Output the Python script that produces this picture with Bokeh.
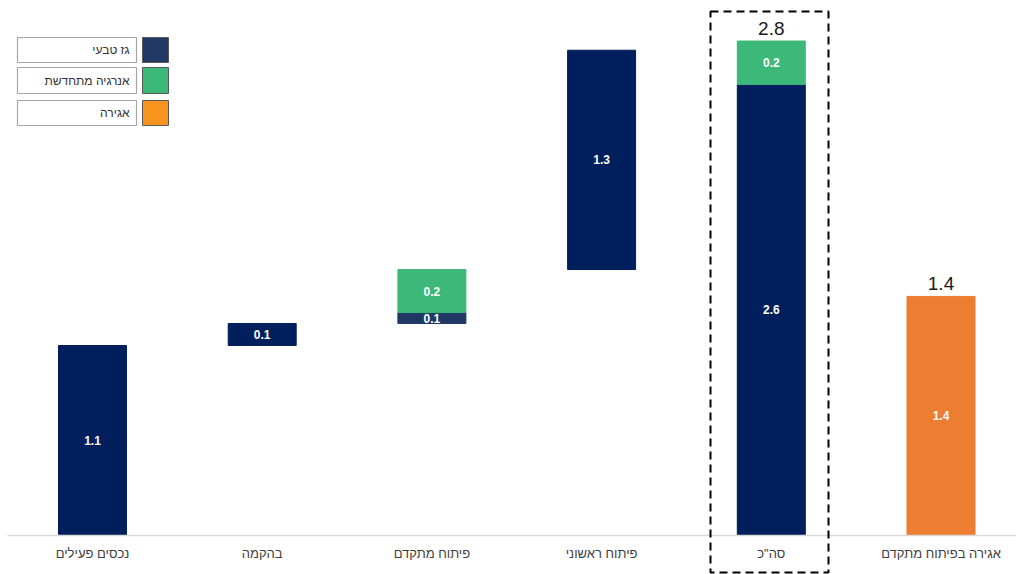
from bokeh.plotting import figure
from bokeh.models import ColumnDataSource, Range1d
from bokeh.core.properties import value
from bokeh.embed import file_html
from bokeh.resources import INLINE

# ---------------- data ----------------
categories = ["נכסים פעילים", "בהקמה", "פיתוח מתקדם", "פיתוח ראשוני", "סה\"כ", "אגירה בפיתוח מתקדם"]
gas = [1.095, 0.127, 0.063, 1.264, 2.6, 0.0]
renewable = [0.0, 0.0, 0.248, 0.0, 0.25, 0.0]
storage = [0.0, 0.0, 0.0, 0.0, 0.0, 1.378]
gas_labels = ["1.1", "0.1", "0.1", "1.3", "2.6", ""]
renew_labels = ["", "", "0.2", "", "0.2", ""]
storage_labels = ["", "", "", "", "", "1.4"]
total_labels = ["", "", "", "", "2.8", "1.4"]
legend_names = ["גז טבעי", "אנרגיה מתחדשת", "אגירה"]

NAVY = "#001f5c"
NAVY2 = "#1f3864"
GREEN = "#3cb878"
ORANGE = "#ed7d31"
FONT = "Liberation Sans"

# ---------------- geometry helpers (pixel -> data) ----------------
W, H = 1016, 574
PX_PER_CAT = 169.7
PX_PER_UNIT = 173.5
X0_PX = 92.0
BASE_PX = 535.0


def sx(px):
    return (px - X0_PX) / PX_PER_CAT


def sy(py):
    return (BASE_PX - py) / PX_PER_UNIT


# ---------------- waterfall bottoms ----------------
n = len(categories)
xs = list(range(n))
gas_bottom, renew_bottom = [], []
run = 0.0
for i in range(n):
    if i < 4:
        b = run
        run += gas[i] + renewable[i]
    else:
        b = 0.0
    gas_bottom.append(b)
    renew_bottom.append(b + gas[i])
gas_top = [b + g for b, g in zip(gas_bottom, gas)]
renew_top = [b + r for b, r in zip(renew_bottom, renewable)]
stor_top = storage[:]

gas_colors = [NAVY, NAVY, NAVY2, NAVY, NAVY, NAVY]

p = figure(width=W, height=H, output_backend="svg", toolbar_location=None,
           x_range=Range1d(sx(0), sx(W)), y_range=Range1d(sy(H), sy(0)),
           x_axis_type=None, y_axis_type=None, min_border=0)
p.outline_line_color = None
p.grid.visible = False
p.background_fill_color = "white"
p.border_fill_color = "white"

BW = 68 / PX_PER_CAT

src_gas = ColumnDataSource(dict(x=[x for x, g in zip(xs, gas) if g > 0],
                                top=[t for t, g in zip(gas_top, gas) if g > 0],
                                bottom=[b for b, g in zip(gas_bottom, gas) if g > 0],
                                color=[c for c, g in zip(gas_colors, gas) if g > 0],
                                lab=[l for l, g in zip(gas_labels, gas) if g > 0]))
p.vbar(x="x", top="top", bottom="bottom", width=BW, fill_color="color", line_color="color", source=src_gas)

src_ren = ColumnDataSource(dict(x=[x for x, r in zip(xs, renewable) if r > 0],
                                top=[t for t, r in zip(renew_top, renewable) if r > 0],
                                bottom=[b for b, r in zip(renew_bottom, renewable) if r > 0],
                                lab=[l for l, r in zip(renew_labels, renewable) if r > 0]))
p.vbar(x="x", top="top", bottom="bottom", width=BW, fill_color=GREEN, line_color=GREEN, source=src_ren)

src_st = ColumnDataSource(dict(x=[x for x, s in zip(xs, storage) if s > 0],
                               top=[s for s in storage if s > 0],
                               bottom=[0.0 for s in storage if s > 0],
                               lab=[l for l, s in zip(storage_labels, storage) if s > 0]))
p.vbar(x="x", top="top", bottom="bottom", width=BW, fill_color=ORANGE, line_color=ORANGE, source=src_st)

# in-bar labels
for s in (src_gas, src_ren, src_st):
    d = s.data
    s.data["ym"] = [(a + b) / 2 for a, b in zip(d["top"], d["bottom"])]
    p.text(x="x", y="ym", text="lab", source=s, text_color="white", text_font=value(FONT),
           text_font_style="bold", text_font_size="12px", text_align="center", text_baseline="middle")

# total labels above bars
tops = [max(a, b, c) for a, b, c in zip(gas_top, renew_top, stor_top)]
tl_src = ColumnDataSource(dict(x=[x for x, l in zip(xs, total_labels) if l],
                               y=[t + 6 / PX_PER_UNIT for t, l in zip(tops, total_labels) if l],
                               t=[l for l in total_labels if l]))
p.text(x="x", y="y", text="t", source=tl_src, text_color="#1a1a1a", text_font=value(FONT),
       text_font_size="19px", text_align="center", text_baseline="bottom")

# baseline
p.segment(x0=[sx(7)], y0=[0], x1=[sx(W)], y1=[0], line_color="#d9d9d9", line_width=1.5)

# category labels
p.text(x=xs, y=[sy(553)] * n, text=categories, text_color="#404040", text_font=value(FONT),
       text_font_size="13px", text_align="center", text_baseline="middle")

# dashed box around total
p.quad(left=[sx(710)], right=[sx(828)], top=[sy(11)], bottom=[sy(572)], fill_color=None,
       line_color="black", line_width=2, line_dash="8 5")

# legend
sw_cols = [NAVY2, GREEN, "#f7941d"]
rows = [(37, 62), (67, 93), (100, 125)]
for (t, b), name, col in zip(rows, legend_names, sw_cols):
    p.quad(left=[sx(17)], right=[sx(136)], top=[sy(t)], bottom=[sy(b)], fill_color="white",
           line_color="#a6a6a6", line_width=1.2)
    p.quad(left=[sx(142)], right=[sx(168)], top=[sy(t)], bottom=[sy(b)], fill_color=col,
           line_color="#595959", line_width=1)
    p.text(x=[sx(129)], y=[sy((t + b) / 2)], text=[name], text_color="#333333", text_font=value(FONT),
           text_font_size="12px", text_align="right", text_baseline="middle")

open("out.html", "w").write(file_html(p, INLINE))
